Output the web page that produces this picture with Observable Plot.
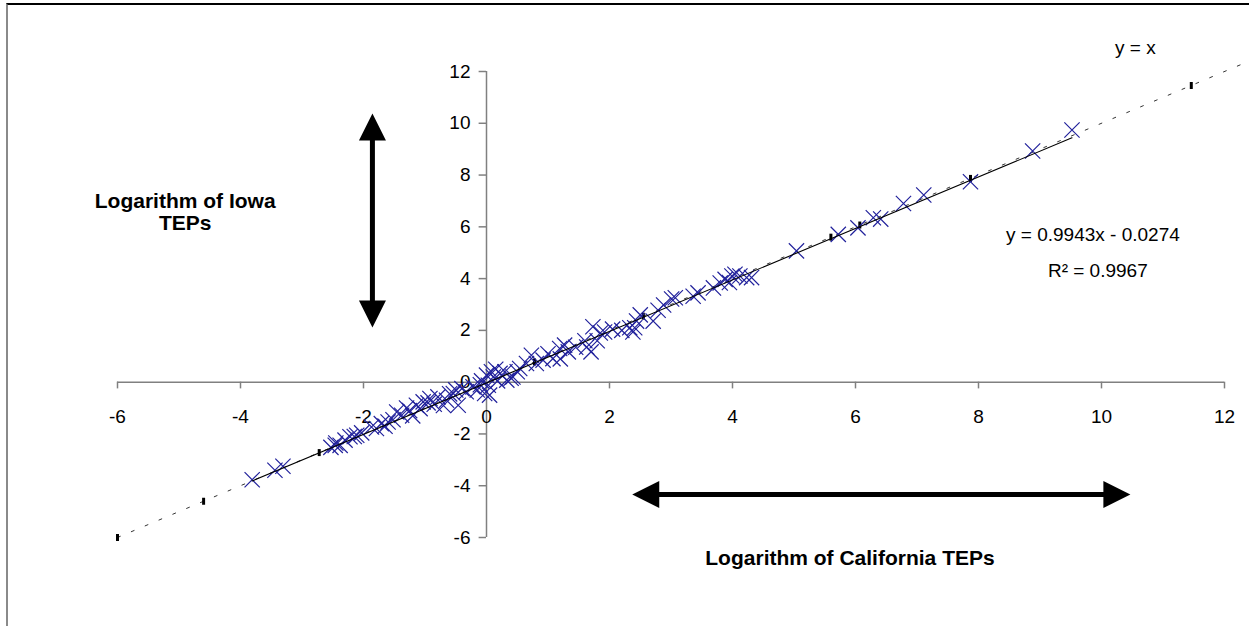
<!DOCTYPE html>
<html>
<head>
<meta charset="utf-8">
<script src="https://cdn.jsdelivr.net/npm/d3@7"></script>
<script src="https://cdn.jsdelivr.net/npm/@observablehq/plot@0.6"></script>
<style>
  html, body { margin: 0; padding: 0; background: #fff; overflow: hidden; }
  #wrap { position: relative; width: 1249px; height: 626px; }
  #wrap svg { position: absolute; left: 0; top: 0; }
  #border { position: absolute; left: 6px; top: 3px; width: 1260px; height: 640px;
            border-top: 2px solid #000; border-left: 2px solid #8a8a8a; pointer-events: none; }
</style>
</head>
<body>
<div id="wrap"><div id="border"></div></div>
<script>
// Tick values
const xTicks = [-6, -4, -2, 0, 2, 4, 6, 8, 10, 12];
const yTicks = [-6, -4, -2, 0, 2, 4, 6, 8, 10, 12];

// Observed data: log of California TEPs (x) vs log of Iowa TEPs (y)
const californiaLog = [-3.81, -3.44, -3.31, -2.53, -2.46, -2.38, -2.30, -2.22, -2.11, -2.03,
  -1.87, -1.79, -1.71, -1.60, -1.52, -1.46, -1.38, -1.25, -1.14, -1.08,
  -1.03, -0.92, -0.85, -0.79, -0.65, -0.60, -0.54, -0.46, -0.40, -0.33,
  -0.22, -0.15, -0.08, -0.03, 0.00, 0.03, 0.08, 0.11, 0.18, 0.22,
  0.33, 0.43, 0.50, 0.54, 0.65, 0.73, 0.81, 0.92, 1.08, 1.19,
  1.27, 1.33, 1.45, 1.63, 1.70, 1.73, 1.80, 1.92, 2.05, 2.33,
  2.38, 2.41, 2.44, 2.71, 2.79, 2.88, 3.01, 3.07, 3.36, 3.44,
  3.69, 3.80, 3.88, 3.99, 4.04, 4.12, 4.23, 4.31, 5.04, 5.72,
  6.04, 6.29, 6.41, 6.78, 7.11, 7.87, 8.88, 9.52,
  -2.45, -2.15, -1.65, -1.30, -1.20, -0.95, -0.70, -0.50, -0.10, 0.05,
  0.15, 0.30, 0.40, 1.00, 1.20, 1.60, 1.85, 2.20, 2.50, 3.95];
const iowaLog = [-3.77, -3.40, -3.25, -2.52, -2.44, -2.44, -2.24, -2.11, -2.05, -1.96,
  -1.73, -1.79, -1.60, -1.54, -1.45, -1.15, -1.28, -1.10, -0.89, -1.02,
  -0.76, -0.63, -0.85, -0.57, -0.70, -0.45, -0.44, -0.89, -0.25, -0.37,
  -0.18, -0.30, 0.05, -0.44, 0.27, -0.12, 0.40, 0.20, 0.05, 0.34,
  0.08, 0.20, 0.40, 0.53, 0.72, 1.04, 0.72, 0.85, 0.91, 1.30,
  1.43, 1.17, 1.35, 1.36, 1.17, 2.14, 1.60, 1.94, 2.05, 2.10,
  1.94, 2.10, 2.36, 2.36, 2.78, 2.98, 3.21, 3.26, 3.32, 3.45,
  3.64, 3.83, 3.97, 4.10, 4.17, 4.10, 4.04, 4.04, 5.07, 5.71,
  5.96, 6.35, 6.30, 6.90, 7.23, 7.74, 8.93, 9.74,
  -2.35, -2.10, -1.70, -1.00, -1.30, -0.80, -0.90, -0.30, -0.10, -0.50,
  0.50, 0.40, 0.15, 1.10, 0.90, 1.60, 1.90, 2.00, 2.60, 3.85];

// y = x reference series (points shown as small black markers)
const identityValues = [-6, -4.6, -2.72, 0.78, 2.55, 5.6, 6.07, 7.87, 11.46, 13];
const identityMarkers = [-6, -4.6, -2.72, 0.78, 2.55, 5.6, 6.07, 7.87, 11.46];

// Linear trendline as shown on the chart
const trendSlope = 0.9943;
const trendIntercept = -0.0274;
const trendRange = [-3.81, 9.52];

// Labels
const identityLabel = [{x: 10.55, y: 12.93, text: "y = x"}];
const equationLabels = [
  {x: 9.86, y: 5.70, text: "y = 0.9943x - 0.0274"},
  {x: 9.94, y: 4.31, text: "R² = 0.9967"}
];
const axisTitles = [
  {x: 5.91, y: -6.80, text: "Logarithm of California TEPs"},
  {x: -4.90, y: 6.58, text: "Logarithm of Iowa\nTEPs"}
];

// Decorative double-headed arrows (data coordinates)
const hArrow = {x1: 2.37, x2: 10.47, y: -4.34};
const vArrow = {x: -1.855, y1: 10.38, y2: 2.11};

const points = californiaLog.map((x, i) => ({x, y: iowaLog[i]}));

const rectSym = {draw(ctx) { ctx.rect(-1.5, -3.5, 3, 7); }};
const triUp = {draw(ctx) { ctx.moveTo(0, 0); ctx.lineTo(13.5, 27); ctx.lineTo(-13.5, 27); ctx.closePath(); }};
const triDown = {draw(ctx) { ctx.moveTo(0, 0); ctx.lineTo(13.5, -27); ctx.lineTo(-13.5, -27); ctx.closePath(); }};
const triLeft = {draw(ctx) { ctx.moveTo(0, 0); ctx.lineTo(27, -13.5); ctx.lineTo(27, 13.5); ctx.closePath(); }};
const triRight = {draw(ctx) { ctx.moveTo(0, 0); ctx.lineTo(-27, -13.5); ctx.lineTo(-27, 13.5); ctx.closePath(); }};

const axisGray = "#808080";
const font = "'Liberation Sans', Arial, sans-serif";

const chart = Plot.plot({
  width: 1249,
  height: 626,
  marginLeft: 117,
  marginRight: 25,
  marginTop: 71,
  marginBottom: 89,
  x: {domain: [-6, 12], axis: null},
  y: {domain: [-6, 12], axis: null},
  style: {fontFamily: font, fontSize: "19px", background: "transparent", overflow: "visible"},
  marks: [
    // axes through the origin
    Plot.ruleY([0], {x1: -6, x2: 12, stroke: axisGray, strokeWidth: 1.5}),
    Plot.ruleX([0], {y1: -6, y2: 12, stroke: axisGray, strokeWidth: 1.5}),
    Plot.ruleX(xTicks, {x: d => d, y1: 0, y2: -0.26, stroke: axisGray, strokeWidth: 1.5}),
    Plot.ruleY(yTicks, {y: d => d, x1: -0.12, x2: 0, stroke: axisGray, strokeWidth: 1.5}),
    Plot.text(xTicks, {x: d => d, y: 0, dy: 35, text: d => String(d), fill: "#000", fontSize: 19}),
    Plot.text(yTicks, {x: 0, y: d => d, dx: -16, textAnchor: "end", text: d => String(d), fill: "#000", fontSize: 19}),

    // y = x dotted reference
    Plot.line(identityValues, {x: d => d, y: d => d, stroke: "#333", strokeWidth: 1, strokeDasharray: "3,12"}),
    Plot.dot(identityMarkers, {x: d => d, y: d => d, symbol: rectSym, fill: "#000", stroke: "none"}),

    // data points
    Plot.dot(points, {x: "x", y: "y", symbol: "times", r: 7, stroke: "#22229c", strokeWidth: 1.2}),

    // trendline
    Plot.line(trendRange, {x: d => d, y: d => trendSlope * d + trendIntercept, stroke: "#000", strokeWidth: 1.1}),

    // labels
    Plot.text(identityLabel, {x: "x", y: "y", text: "text", fontSize: 19, fill: "#000"}),
    Plot.text(equationLabels, {x: "x", y: "y", text: "text", fontSize: 19, fill: "#000"}),
    Plot.text(axisTitles, {x: "x", y: "y", text: "text", fontSize: 21, fontWeight: "bold", fill: "#000", lineHeight: 1.05}),

    // horizontal arrow
    Plot.arrow([hArrow], {x1: "x1", x2: "x2", y1: "y", y2: "y", headLength: 0, insetStart: 22, insetEnd: 22, stroke: "#000", strokeWidth: 5}),
    Plot.dot([hArrow], {x: "x1", y: "y", symbol: triLeft, fill: "#000", stroke: "none"}),
    Plot.dot([hArrow], {x: "x2", y: "y", symbol: triRight, fill: "#000", stroke: "none"}),

    // vertical arrow
    Plot.arrow([vArrow], {x1: "x", x2: "x", y1: "y1", y2: "y2", headLength: 0, insetStart: 22, insetEnd: 22, stroke: "#000", strokeWidth: 5}),
    Plot.dot([vArrow], {x: "x", y: "y1", symbol: triUp, fill: "#000", stroke: "none"}),
    Plot.dot([vArrow], {x: "x", y: "y2", symbol: triDown, fill: "#000", stroke: "none"})
  ]
});

document.getElementById("wrap").insertBefore(chart, document.getElementById("border"));
</script>
</body>
</html>
